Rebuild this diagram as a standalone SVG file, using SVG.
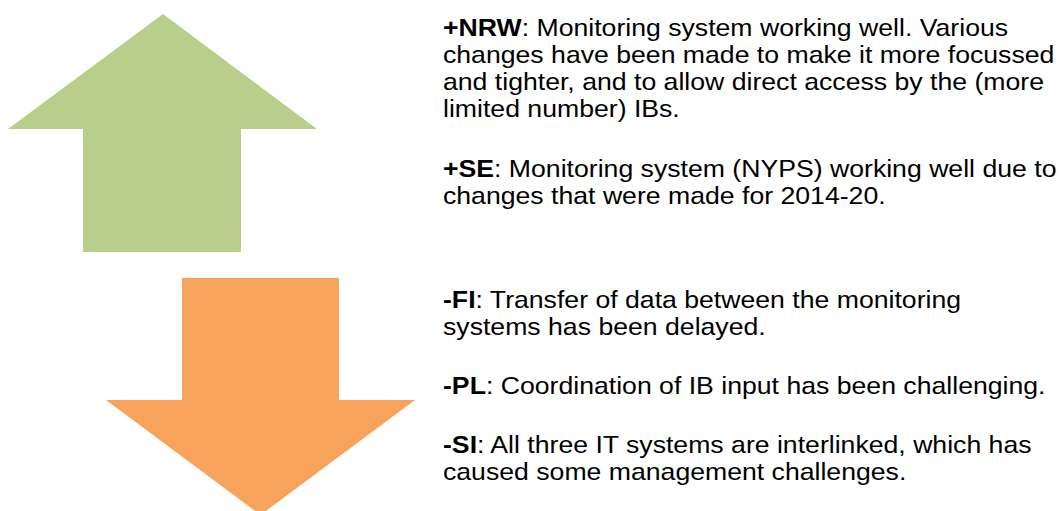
<svg xmlns="http://www.w3.org/2000/svg" width="1064" height="511" viewBox="0 0 1064 511">
  <style>
    .txt { font-family: "Liberation Sans", Arial, sans-serif; font-size: 24px; fill: #000; }
    .key { font-weight: bold; }
    .up { fill: #B8CE8A; }
    .down { fill: #F7A35B; }
  </style>
  <rect width="1064" height="511" fill="#fff"/>

  <!-- positive trend arrow -->
  <g id="arrow-up">
    <polygon class="up" points="163,14 317,129 241,129 241,252 83,252 83,129 8,129"/>
  </g>

  <!-- negative trend arrow -->
  <g id="arrow-down">
    <polygon class="down" points="182,278 339,278 339,400 415,400 260.5,515 106,400 182,400"/>
  </g>

  <!-- notes column: wide-set type, stretched horizontally -->
  <g transform="translate(443 0) scale(1.11 1)">
    <g id="note-nrw">
      <text class="txt" x="0" y="36"><tspan class="key">+NRW</tspan>: Monitoring system working well. Various</text>
      <text class="txt" x="0" y="63">changes have been made to make it more focussed</text>
      <text class="txt" x="0" y="90">and tighter, and to allow direct access by the (more</text>
      <text class="txt" x="0" y="117">limited number) IBs.</text>
    </g>

    <g id="note-se">
      <text class="txt" x="0" y="177"><tspan class="key">+SE</tspan>: Monitoring system (NYPS) working well due to</text>
      <text class="txt" x="0" y="204">changes that were made for 2014-20.</text>
    </g>

    <g id="note-fi">
      <text class="txt" x="0" y="308"><tspan class="key">-FI</tspan>: Transfer of data between the monitoring</text>
      <text class="txt" x="0" y="335">systems has been delayed.</text>
    </g>

    <g id="note-pl">
      <text class="txt" x="0" y="394"><tspan class="key">-PL</tspan>: Coordination of IB input has been challenging.</text>
    </g>

    <g id="note-si">
      <text class="txt" x="0" y="453"><tspan class="key">-SI</tspan>: All three IT systems are interlinked, which has</text>
      <text class="txt" x="0" y="480">caused some management challenges.</text>
    </g>
  </g>
</svg>
